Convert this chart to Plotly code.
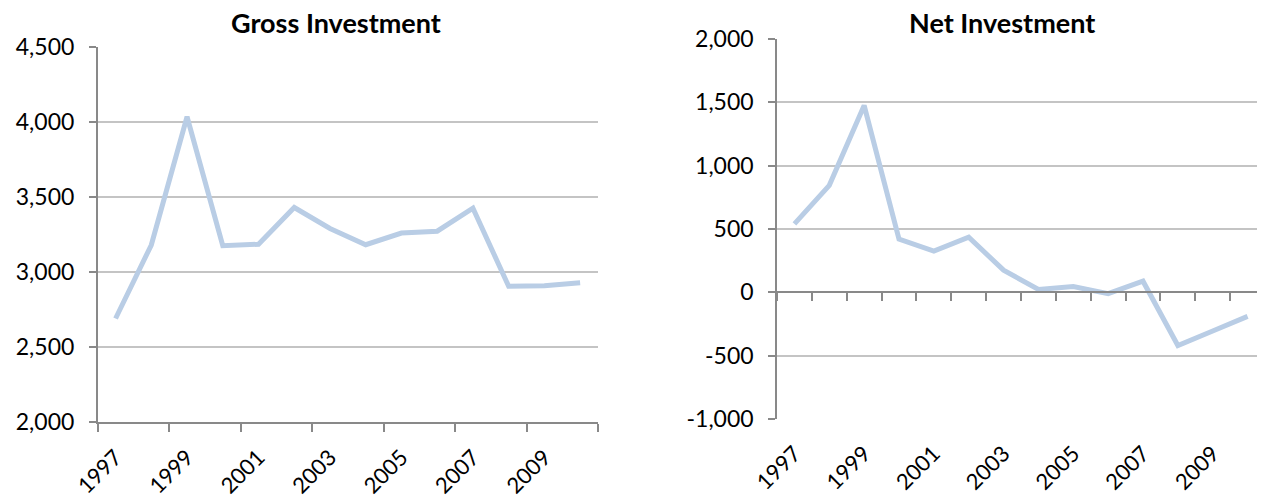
import plotly.graph_objects as go

# Data
years = list(range(1997, 2011))
gross = [2690, 3180, 4035, 3175, 3185, 3430, 3290, 3182, 3260, 3272, 3425, 2905, 2908, 2928]
net = [540, 845, 1475, 420, 325, 435, 175, 22, 45, -10, 88, -420, -305, -190]

label_years = years[::2]
label_text = [str(y) for y in label_years]

gross_ticks = [2000, 2500, 3000, 3500, 4000, 4500]
net_ticks = [-1000, -500, 0, 500, 1000, 1500, 2000]
gross_range = [gross_ticks[0], gross_ticks[-1]]
net_range = [net_ticks[0], net_ticks[-1]]

line_color = "#B9CDE5"
axis_color = "#898989"
grid_color = "#C4C4C4"
font = "Lato"

W, H = 1265, 497
OFF = 8  # page body margin


def fx(px):
    return (px - OFF) / W


def fy(py):
    return 1 - (py - OFF) / H


# plot areas (paper fractions)
left_x = [fx(97.7), fx(598)]
right_x = [fx(777), fx(1265)]
left_y = [fy(422), fy(47)]
right_y = [fy(419), fy(39)]

x_span = [years[0] - 0.5, years[-1] + 0.5]
left_bounds = [y - 0.5 for y in years[::2]] + [years[-1] + 0.5]
right_bounds = [y - 0.5 for y in years] + [years[-1] + 0.5]

# right chart: category axis crosses the value axis at zero
zero_frac = (0 - net_range[0]) / (net_range[1] - net_range[0])
zero_pos = right_y[0] + zero_frac * (right_y[1] - right_y[0])
# push the labels from the zero line down to the bottom of the plot
right_standoff = int(round(zero_frac * (right_y[1] - right_y[0]) * H)) + 12

fig = go.Figure()

fig.add_trace(go.Scatter(
    x=years, y=gross, mode="lines", xaxis="x", yaxis="y",
    line=dict(color=line_color, width=5), showlegend=False
))
fig.add_trace(go.Scatter(
    x=years, y=net, mode="lines", xaxis="x2", yaxis="y2",
    line=dict(color=line_color, width=5), showlegend=False
))

tick_font = dict(family=font, size=23, color="#000000")
cat_font = dict(family=font, size=22, color="#000000")

fig.update_layout(
    width=W, height=H,
    margin=dict(l=0, r=0, t=0, b=0, autoexpand=False),
    plot_bgcolor="white", paper_bgcolor="white",
    font=dict(family=font),
    showlegend=False,
    xaxis=dict(
        domain=left_x, anchor="y", range=x_span,
        tickmode="array", tickvals=label_years, ticktext=label_text,
        tickangle=-45, ticks="", tickfont=cat_font, ticklabelstandoff=12,
        showline=True, linecolor=axis_color, linewidth=1.5, showgrid=False, zeroline=False,
        minor=dict(tickmode="array", tickvals=left_bounds, ticks="outside",
                   ticklen=8, tickcolor=axis_color, tickwidth=1.5, showgrid=False),
    ),
    yaxis=dict(
        domain=left_y, anchor="x", range=gross_range,
        tickmode="array", tickvals=gross_ticks, ticktext=[f"{v:,}" for v in gross_ticks],
        ticks="outside", ticklen=7, tickcolor=axis_color, tickwidth=1.5,
        tickfont=tick_font, ticklabelstandoff=10,
        showline=True, linecolor=axis_color, linewidth=1.5,
        showgrid=True, gridcolor=grid_color, gridwidth=1.5, zeroline=False,
    ),
    xaxis2=dict(
        domain=right_x, anchor="free", position=zero_pos, range=x_span,
        tickmode="array", tickvals=label_years, ticktext=label_text,
        tickangle=-45, ticks="", tickfont=cat_font, ticklabelstandoff=right_standoff,
        showline=True, linecolor=axis_color, linewidth=1.5, showgrid=False, zeroline=False,
        minor=dict(tickmode="array", tickvals=right_bounds, ticks="outside",
                   ticklen=8, tickcolor=axis_color, tickwidth=1.5, showgrid=False),
    ),
    yaxis2=dict(
        domain=right_y, anchor="x2", range=net_range,
        tickmode="array", tickvals=net_ticks, ticktext=[f"{v:,}" for v in net_ticks],
        ticks="outside", ticklen=7, tickcolor=axis_color, tickwidth=1.5,
        tickfont=tick_font, ticklabelstandoff=10,
        showline=True, linecolor=axis_color, linewidth=1.5,
        showgrid=True, gridcolor=grid_color, gridwidth=1.5, zeroline=False,
    ),
    annotations=[
        dict(text="<b>Gross Investment</b>", x=fx(336), y=fy(23),
             xref="paper", yref="paper", xanchor="center", yanchor="middle",
             showarrow=False, borderpad=0, font=dict(family=font, size=27, color="#000000")),
        dict(text="<b>Net Investment</b>", x=fx(1002), y=fy(23),
             xref="paper", yref="paper", xanchor="center", yanchor="middle",
             showarrow=False, borderpad=0, font=dict(family=font, size=27, color="#000000")),
    ],
)

fig.write_html("out.html")
